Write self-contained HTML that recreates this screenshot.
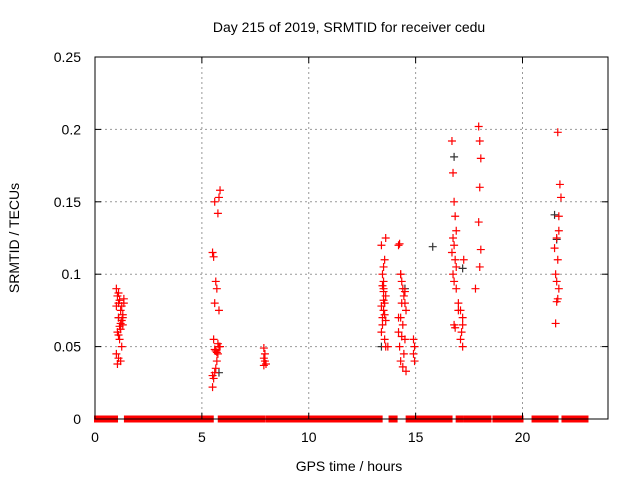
<!DOCTYPE html>
<html><head><meta charset="utf-8"><style>
body{margin:0;background:#fff;}
svg text{font-family:"Liberation Sans",sans-serif;font-size:14px;fill:#000;}
</style></head><body>
<svg id="chart" width="640" height="480" xmlns="http://www.w3.org/2000/svg">
<text x="349" y="32" text-anchor="middle">Day 215 of 2019, SRMTID for receiver cedu</text>
<text x="349" y="471" text-anchor="middle">GPS time / hours</text>
<text transform="translate(19,238) rotate(-90)" text-anchor="middle">SRMTID / TECUs</text>
<g id="grid"></g><g id="marks"></g><g id="axes"></g>
</svg>
<script>
const xTicks=[0,5,10,15,20];
const yTicks=[0,0.05,0.1,0.15,0.2,0.25];
const yTickLabels=["0","0.05","0.1","0.15","0.2","0.25"];
const zeroStart=[0,1.4,5.79,5.98,8.04,13.78,14.58,15.0,16.92,17.29,18.64,19.25,20.47,21.87];
const zeroEnd=[1.03,5.51,5.93,7.94,13.41,14.11,14.95,16.68,17.2,18.5,19.16,20.0,21.64,23.04];
const redHours=[1.0,1.05,1.1,1.0,1.15,1.2,1.1,1.25,1.3,1.35,1.2,1.05,1.1,1.3,1.15,1.25,1.0,1.1,1.2,1.35,1.05,1.3,1.15,1.2,1.1,1.25,
5.5,5.55,5.6,5.65,5.7,5.75,5.8,5.85,5.6,5.65,5.7,5.5,5.55,5.75,5.8,5.6,5.7,5.65,5.55,5.5,5.75,5.6,5.85,5.8,
7.9,7.95,7.9,7.95,8.0,7.9,
13.4,13.45,13.5,13.55,13.6,13.5,13.45,13.55,13.4,13.6,13.5,13.45,13.55,13.6,13.5,13.4,13.55,13.45,13.5,13.6,13.7,13.5,
14.2,14.25,14.3,14.35,14.4,14.45,14.5,14.55,14.3,14.4,14.2,14.35,14.5,14.25,14.45,14.3,14.4,14.55,14.2,14.35,14.5,14.3,
14.9,14.95,14.9,14.95,
16.7,16.75,16.8,16.85,16.9,16.75,16.8,16.7,16.85,16.9,16.75,16.8,16.9,17.0,17.1,17.2,17.2,17.15,17.1,17.2,17.25,16.8,16.85,17.0,
17.95,18.0,18.05,18.0,17.95,18.05,18.0,17.8,
21.5,21.6,21.7,21.65,21.55,21.6,21.7,21.65,21.6,21.55,21.7,21.8,21.75,21.65];
const redValues=[0.09,0.085,0.08,0.078,0.082,0.075,0.07,0.068,0.065,0.08,0.062,0.06,0.058,0.07,0.055,0.05,0.045,0.042,0.04,0.083,0.038,0.072,0.064,0.066,0.087,0.078,
0.022,0.028,0.032,0.035,0.04,0.045,0.05,0.05,0.048,0.047,0.046,0.03,0.055,0.052,0.075,0.08,0.09,0.095,0.112,0.115,0.142,0.15,0.158,0.153,
0.049,0.045,0.042,0.04,0.038,0.037,
0.06,0.07,0.075,0.08,0.085,0.09,0.1,0.11,0.12,0.125,0.095,0.065,0.055,0.05,0.082,0.078,0.072,0.092,0.088,0.068,0.05,0.105,
0.12,0.121,0.1,0.095,0.09,0.085,0.08,0.075,0.07,0.065,0.06,0.057,0.055,0.05,0.045,0.04,0.036,0.033,0.07,0.08,0.088,0.1,
0.055,0.05,0.045,0.04,
0.192,0.17,0.15,0.14,0.13,0.125,0.12,0.115,0.11,0.105,0.1,0.095,0.09,0.08,0.075,0.07,0.065,0.06,0.055,0.05,0.11,0.065,0.063,0.075,
0.202,0.192,0.18,0.16,0.136,0.117,0.105,0.09,
0.118,0.125,0.13,0.11,0.1,0.095,0.09,0.083,0.081,0.066,0.14,0.153,0.162,0.198];
const blackHours=[1.1,5.8,13.4,14.5,15.8,16.8,17.2,21.5,21.6];
const blackValues=[0.07,0.032,0.05,0.09,0.119,0.181,0.104,0.141,0.124];
const NS="http://www.w3.org/2000/svg";
const L=95,R=608,T=57,B=419;
function sx(h){return L+h/24*(R-L);}
function sy(v){return B-v/0.25*(B-T);}
function mk(tag,attrs,parent){const e=document.createElementNS(NS,tag);for(const k in attrs)e.setAttribute(k,attrs[k]);document.getElementById(parent).appendChild(e);return e;}
xTicks.forEach((t,i)=>{
 if(t>0){const g=mk('line',{x1:sx(t),x2:sx(t),y1:T,y2:B,stroke:'#999','stroke-dasharray':'2,3'},'grid');
 
 }
 const tk=mk('line',{x1:sx(t),x2:sx(t),y1:B,y2:B-6,stroke:'#000'},'axes');
 
 
 const tk2=mk('line',{x1:sx(t),x2:sx(t),y1:T,y2:T+6,stroke:'#000'},'axes');
 
 
 const lb=mk('text',{x:sx(t),y:B+23,'text-anchor':'middle'},'axes');lb.textContent=String(t);
 
 
});
yTicks.forEach((t,i)=>{
 if(t>0&&t<0.25){const g=mk('line',{x1:L,x2:R,y1:sy(t),y2:sy(t),stroke:'#999','stroke-dasharray':'2,3'},'grid');
 
 }
 const tk=mk('line',{x1:L,x2:L+6,y1:sy(t),y2:sy(t),stroke:'#000'},'axes');
 
 
 const tk2=mk('line',{x1:R,x2:R-6,y1:sy(t),y2:sy(t),stroke:'#000'},'axes');
 
 
 const lb=mk('text',{x:L-14,y:sy(t)+5,'text-anchor':'end'},'axes');lb.textContent=yTickLabels[i];
 
 
});
const fr=mk('rect',{x:L,y:T,width:R-L,height:B-T,fill:'none',stroke:'#000'},'axes');


zeroStart.forEach((s,i)=>{
 const r=mk('rect',{x:sx(s)-1,y:sy(0)-3.5,width:sx(zeroEnd[i])-sx(s)+2,height:7,fill:'#f00'},'marks');
 
 
});
function plus(h,v,c,name){
 const x=sx(h),y=sy(v);
 const p=mk('path',{d:`M${x-4},${y}H${x+4}M${x},${y-4}V${y+4}`,stroke:c,'stroke-width':1.2,fill:'none'},'marks');
 
 
}
blackHours.forEach((h,i)=>plus(h,blackValues[i],'#333','black-point'));
redHours.forEach((h,i)=>plus(h,redValues[i],'#f00','red-point'));
</script>
</body></html>
